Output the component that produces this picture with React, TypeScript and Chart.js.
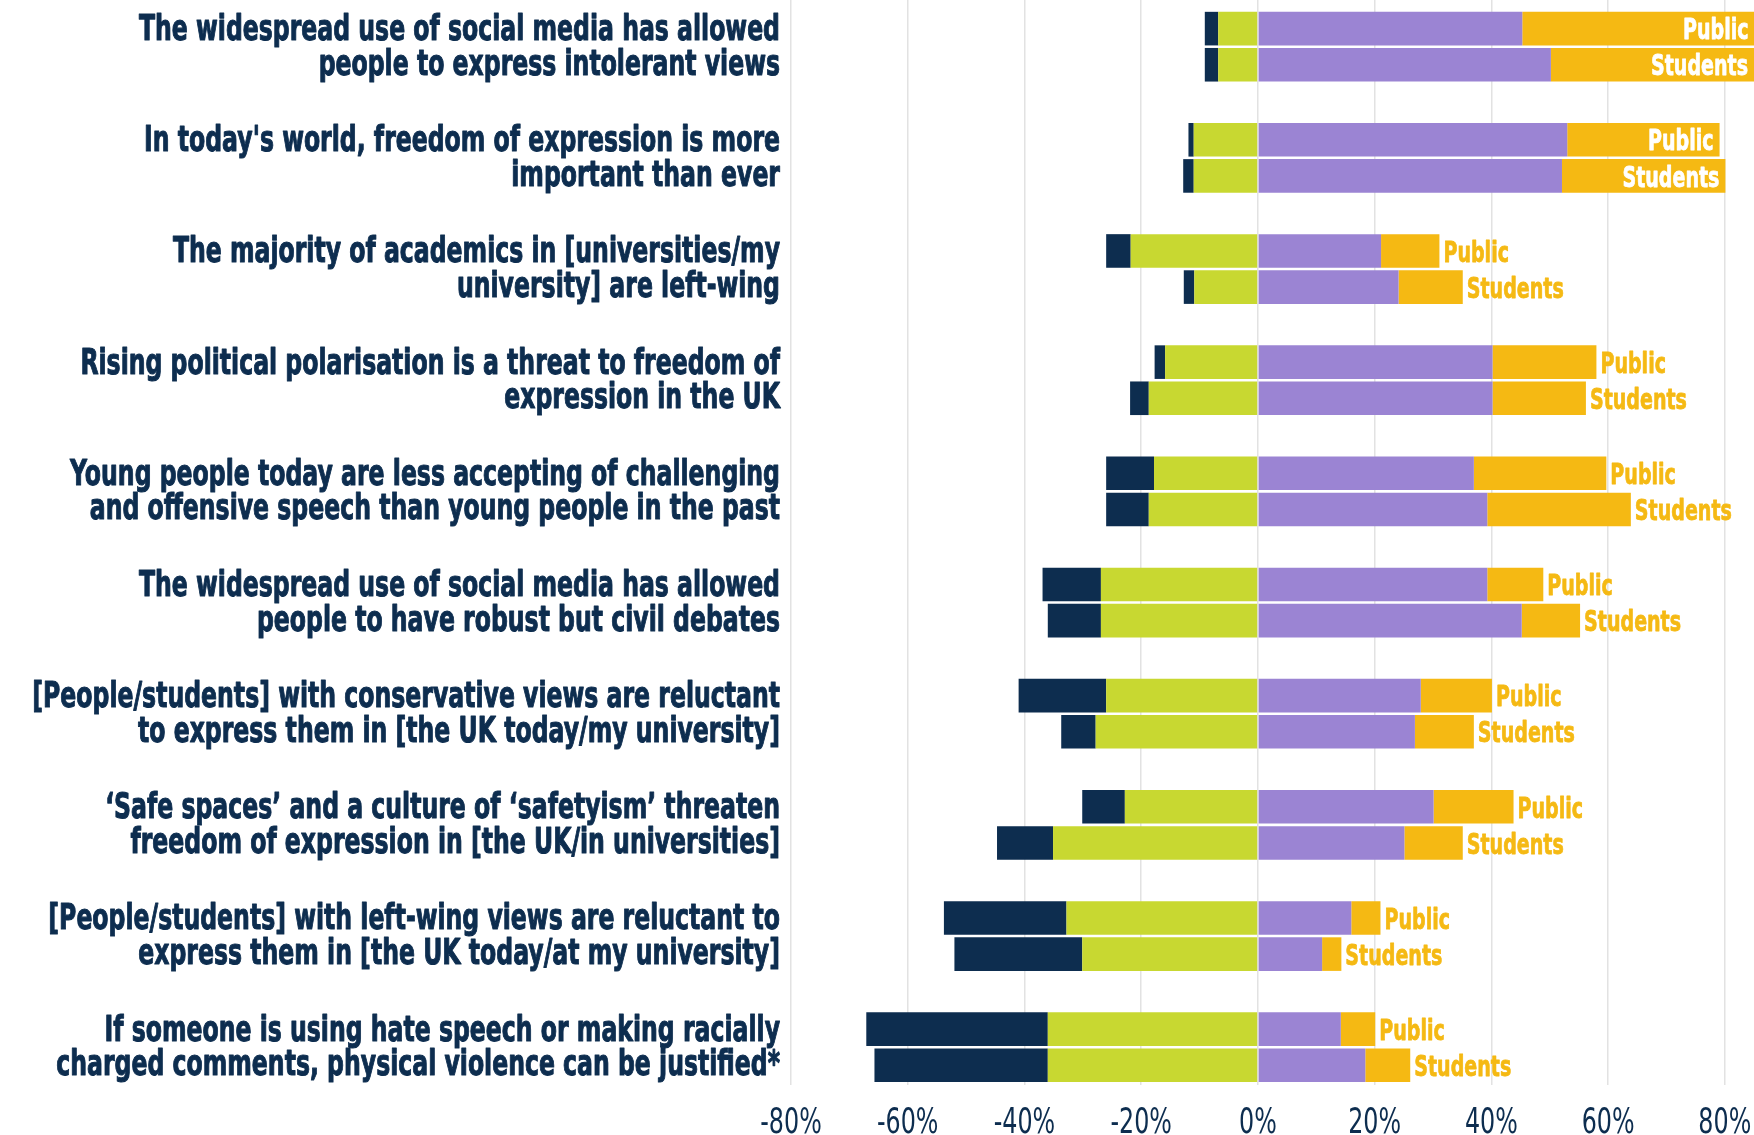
import React, { useEffect, useRef } from "react";
import { Chart, registerables } from "chart.js";

Chart.register(...registerables);

const questions: string[][] = [
  ["The widespread use of social media has allowed", "people to express intolerant views"],
  ["In today's world, freedom of expression is more", "important than ever"],
  ["The majority of academics in [universities/my", "university] are left-wing"],
  ["Rising political polarisation is a threat to freedom of", "expression in the UK"],
  ["Young people today are less accepting of challenging", "and offensive speech than young people in the past"],
  ["The widespread use of social media has allowed", "people to have robust but civil debates"],
  ["[People/students] with conservative views are reluctant", "to express them in [the UK today/my university]"],
  ["\u2018Safe spaces\u2019 and a culture of \u2018safetyism\u2019 threaten", "freedom of expression in [the UK/in universities]"],
  ["[People/students] with left-wing views are reluctant to", "express them in [the UK today/at my university]"],
  ["If someone is using hate speech or making racially", "charged comments, physical violence can be justified*"],
];

const groups = ["Public", "Students"];

const publicStronglyDisagree = [-2.3, -0.9, -4.2, -1.8, -8.2, -10.0, -15.0, -7.3, -21.0, -31.1];
const publicDisagree = [-6.8, -11.0, -21.8, -15.9, -17.8, -26.9, -26.0, -22.8, -32.8, -36.0];
const publicAgree = [45.3, 53.0, 21.1, 40.2, 37.0, 39.3, 27.9, 30.1, 16.0, 14.2];
const publicStronglyAgree = [39.8, 26.1, 10.0, 17.8, 22.7, 9.6, 12.2, 13.7, 5.0, 5.9];

const studentsStronglyDisagree = [-2.3, -1.8, -1.8, -3.2, -7.3, -9.1, -5.9, -9.6, -21.9, -29.7];
const studentsDisagree = [-6.8, -11.0, -10.9, -18.7, -18.7, -26.9, -27.8, -35.1, -30.1, -36.0];
const studentsAgree = [50.2, 52.1, 24.1, 40.2, 39.3, 45.2, 26.9, 25.1, 11.0, 18.4];
const studentsStronglyAgree = [34.8, 28.0, 11.0, 16.0, 24.6, 10.0, 10.1, 10.0, 3.3, 7.7];

const xTickValues = [-80, -60, -40, -20, 0, 20, 40, 60, 80];
const xMin = -80;
const xMax = 85;
const yMin = -0.42;
const yMax = 9.34;

const NAVY = "#0d2d4f";
const GREEN = "#c8d831";
const PURPLE = "#9b84d3";
const YELLOW = "#f5b913";
const FONT = "'DejaVu Sans', 'Noto Sans', sans-serif";

// condensed-text styling (sizes of the reference typography)
const LABEL_SIZE = 35;
const LABEL_LINE = 34.7;
const LABEL_REF_WIDTH = 641; // width of the first question line
const TICK_SIZE = 36;
const TICK_REF_WIDTH = 61.5; // width of "-80%"
const END_SIZE = 28;
const END_REF_WIDTH = 97; // width of "Students"

function condensedText(ctx: CanvasRenderingContext2D, text: string, x: number, y: number, sx: number, stroke: number) {
  ctx.save();
  ctx.translate(x, y);
  ctx.scale(sx, 1);
  if (stroke > 0) {
    ctx.lineWidth = stroke;
    ctx.lineJoin = "round";
    ctx.strokeStyle = ctx.fillStyle;
    ctx.strokeText(text, 0, 0);
  }
  ctx.fillText(text, 0, 0);
  ctx.restore();
}

const textPlugin = {
  id: "condensedText",
  afterDraw(chart: any) {
    const ctx: CanvasRenderingContext2D = chart.ctx;
    const area = chart.chartArea;
    const yScale = chart.scales.y;
    const xScale = chart.scales.x;
    ctx.save();
    ctx.textBaseline = "alphabetic";

    // category labels
    ctx.font = `bold ${LABEL_SIZE}px ${FONT}`;
    ctx.fillStyle = NAVY;
    ctx.textAlign = "right";
    const sxL = LABEL_REF_WIDTH / ctx.measureText(questions[0][0]).width;
    const capL = 0.729 * LABEL_SIZE;
    yScale.ticks.forEach((t: any) => {
      const lines = questions[t.value];
      if (!lines) return;
      const cy = yScale.getPixelForValue(t.value);
      lines.forEach((line, j) => {
        const by = cy + (j - (lines.length - 1) / 2) * LABEL_LINE + capL / 2 - 2;
        condensedText(ctx, line, area.left - 11, by, sxL, 1.1);
      });
    });

    // x tick labels
    ctx.font = `${TICK_SIZE}px ${FONT}`;
    ctx.textAlign = "center";
    const sxT = TICK_REF_WIDTH / ctx.measureText(`${xTickValues[0]}%`).width;
    xScale.ticks.forEach((t: any) => {
      const x = xScale.getPixelForValue(t.value);
      condensedText(ctx, `${t.value}%`, x, area.bottom + 48, sxT, 0);
    });

    // end labels (Public / Students)
    ctx.font = `bold ${END_SIZE}px ${FONT}`;
    const sxE = END_REF_WIDTH / ctx.measureText(groups[1]).width;
    const capE = 0.729 * END_SIZE;
    groups.forEach((g) => {
      let last = -1;
      chart.data.datasets.forEach((d: any, i: number) => {
        if (d.stack === g) last = i;
      });
      if (last < 0) return;
      const meta = chart.getDatasetMeta(last);
      const w = ctx.measureText(g).width * sxE;
      meta.data.forEach((bar: any) => {
        const { x, y } = bar.getProps(["x", "y"], true);
        const by = y + capE / 2 + 0.5;
        if (x + 4 + w > area.right) {
          ctx.fillStyle = "#ffffff";
          ctx.textAlign = "right";
          condensedText(ctx, g, x - 6, by, sxE, 0.8);
        } else {
          ctx.fillStyle = YELLOW;
          ctx.textAlign = "left";
          condensedText(ctx, g, x + 4, by, sxE, 0.8);
        }
      });
    });
    ctx.restore();
  },
};

export default function App() {
  const ref = useRef<HTMLCanvasElement>(null);

  useEffect(() => {
    if (!ref.current) return;
    const mk = (label: string, data: number[], color: string, stack: string) => ({
      label,
      data,
      backgroundColor: color,
      borderWidth: 0,
      stack,
    });
    const chart = new Chart(ref.current, {
      type: "bar",
      data: {
        labels: questions.map((_, i) => i),
        datasets: [
          mk("Disagree", publicDisagree, GREEN, "Public"),
          mk("Strongly disagree", publicStronglyDisagree, NAVY, "Public"),
          mk("Agree", publicAgree, PURPLE, "Public"),
          mk("Strongly agree", publicStronglyAgree, YELLOW, "Public"),
          mk("Disagree", studentsDisagree, GREEN, "Students"),
          mk("Strongly disagree", studentsStronglyDisagree, NAVY, "Students"),
          mk("Agree", studentsAgree, PURPLE, "Students"),
          mk("Strongly agree", studentsStronglyAgree, YELLOW, "Students"),
        ],
      },
      options: {
        animation: false,
        responsive: false,
        maintainAspectRatio: false,
        indexAxis: "y",
        layout: { padding: 0 },
        datasets: { bar: { categoryPercentage: 0.65, barPercentage: 0.93 } },
        plugins: { legend: { display: false }, tooltip: { enabled: false } },
        scales: {
          x: {
            type: "linear",
            position: "bottom",
            min: xMin,
            max: xMax,
            bounds: "data",
            stacked: true,
            afterBuildTicks: (s: any) => {
              s.ticks = xTickValues.map((v) => ({ value: v }));
            },
            afterFit: (s: any) => {
              s.height = 50;
              s.paddingLeft = 0;
              s.paddingRight = 0;
            },
            grid: { color: "#e2e2e2", lineWidth: 1.5, drawTicks: false },
            border: { display: false },
            ticks: { display: false },
          },
          y: {
            type: "linear",
            reverse: true,
            min: yMin,
            max: yMax,
            bounds: "data",
            offset: false,
            stacked: true,
            afterBuildTicks: (s: any) => {
              s.ticks = questions.map((_, i) => ({ value: i }));
            },
            afterFit: (s: any) => {
              s.width = 791;
              s.paddingTop = 0;
              s.paddingBottom = 0;
            },
            grid: { display: false, drawTicks: false },
            border: { display: false },
            ticks: { display: false },
          },
        },
      } as any,
      plugins: [textPlugin],
    });
    return () => chart.destroy();
  }, []);

  return (
    <div style={{ position: "fixed", left: 0, top: 0, width: 1754, height: 1135, background: "#fff" }}>
      <canvas ref={ref} width={1754} height={1135} style={{ display: "block", width: 1754, height: 1135 }} />
    </div>
  );
}
